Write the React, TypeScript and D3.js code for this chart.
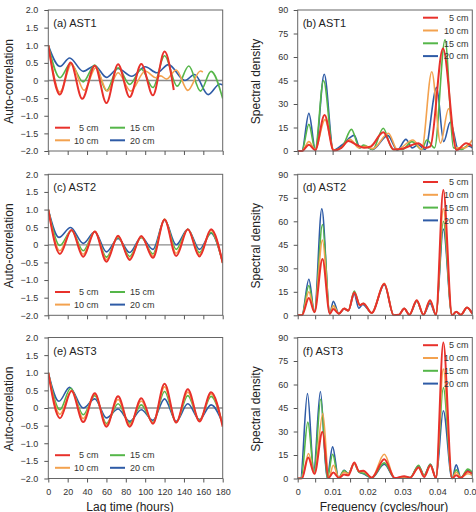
import { useEffect, useRef } from 'react';
import * as d3 from 'd3';

type Pt = [number, number];

const WIDTH = 476;
const HEIGHT = 512;
const FONT = '"Liberation Sans", Arial, Helvetica, sans-serif';

const depthLabels = ['5 cm', '10 cm', '15 cm', '20 cm'];
const depthColors = ['#e8312b', '#f3a24f', '#55b649', '#2e5ba6'];

// tick values
const lagTicks = [0, 20, 40, 60, 80, 100, 120, 140, 160, 180];
const acfTicks = [-2, -1.5, -1, -0.5, 0, 0.5, 1, 1.5, 2];
const freqTicks = [0, 0.005, 0.01, 0.015, 0.02, 0.025, 0.03, 0.035, 0.04, 0.045, 0.05];
const densityTicks = [0, 15, 30, 45, 60, 75, 90];

// auto-correlation, [lag hours, r] at turning points
const acfAst1Cm5: Pt[] = [[0, 1], [12, -0.4], [23, 0.51], [35, -0.52], [48, 0.42], [60, -0.64], [72, 0.46], [84, -0.47], [96, 0.47], [108, -0.42], [120, 0.82], [129.5, -0.27]];
const acfAst1Cm10: Pt[] = [[0, 1], [12, -0.33], [24, 0.47], [37, -0.28], [49, 0.36], [61, -0.3], [72, 0.22], [85, -0.3], [100, 0.27], [111, 0.08], [116, 0.13], [122, 0.04], [132, 0.3], [144, -0.28], [157, 0.27], [159.5, 0.24]];
const acfAst1Cm15: Pt[] = [[0, 1], [12, 0.08], [23, 0.48], [36, -0.04], [48, 0.44], [60, -0.29], [72, 0.36], [84, -0.11], [96, 0.32], [108, -0.2], [120, 0.7], [133, -0.16], [145, 0.41], [157, -0.3], [168, 0.26], [180, -0.51]];
const acfAst1Cm20: Pt[] = [[0, 1], [12, 0.4], [22, 0.64], [36, 0.26], [48, 0.42], [60, 0.09], [72, 0.34], [86, 0.12], [100, 0.39], [112, 0.22], [124, 0.45], [141, 0.0], [151, 0.17], [165, -0.4], [177, -0.1], [180, -0.13]];

const acfAst2Cm5: Pt[] = [[0, 1], [12, -0.26], [24, 0.42], [36, -0.34], [48, 0.38], [60, -0.48], [72, 0.26], [84, -0.43], [96, 0.25], [108, -0.37], [120, 0.72], [132, -0.32], [144, 0.44], [156, -0.33], [168, 0.44], [180, -0.52]];
const acfAst2Cm10: Pt[] = [[0, 1], [12, -0.17], [24, 0.42], [36, -0.27], [48, 0.38], [60, -0.42], [72, 0.24], [84, -0.39], [96, 0.23], [108, -0.32], [120, 0.72], [132, -0.24], [144, 0.44], [156, -0.28], [168, 0.41], [180, -0.52]];
const acfAst2Cm15: Pt[] = [[0, 1], [12, -0.02], [24, 0.41], [36, -0.17], [48, 0.37], [60, -0.35], [72, 0.21], [84, -0.33], [96, 0.21], [108, -0.26], [120, 0.72], [132, -0.13], [144, 0.44], [156, -0.22], [168, 0.35], [180, -0.51]];
const acfAst2Cm20: Pt[] = [[0, 1], [11, 0.21], [23, 0.49], [36, 0.04], [48, 0.37], [60, -0.2], [72, 0.18], [84, -0.22], [96, 0.21], [108, -0.13], [120, 0.7], [132, 0.0], [144, 0.44], [156, -0.13], [168, 0.33], [180, -0.5]];

const acfAst3Cm5: Pt[] = [[0, 1], [12, -0.29], [24, 0.48], [36, -0.4], [48, 0.42], [60, -0.53], [72, 0.33], [84, -0.53], [96, 0.28], [108, -0.45], [120, 0.69], [132, -0.41], [144, 0.53], [156, -0.38], [168, 0.45], [180, -0.53]];
const acfAst3Cm10: Pt[] = [[0, 1], [12, -0.18], [24, 0.5], [36, -0.3], [48, 0.4], [60, -0.48], [72, 0.24], [84, -0.48], [96, 0.2], [108, -0.43], [120, 0.6], [132, -0.41], [144, 0.45], [156, -0.37], [168, 0.4], [180, -0.5]];
const acfAst3Cm15: Pt[] = [[0, 1], [12, -0.05], [23, 0.56], [36, -0.19], [48, 0.35], [60, -0.44], [72, 0.12], [84, -0.43], [96, 0.09], [108, -0.41], [120, 0.47], [132, -0.41], [144, 0.35], [156, -0.35], [168, 0.33], [180, -0.47]];
const acfAst3Cm20: Pt[] = [[0, 1], [11, 0.19], [22, 0.59], [36, 0.0], [48, 0.26], [60, -0.28], [72, -0.03], [84, -0.38], [96, -0.05], [108, -0.35], [120, 0.26], [132, -0.38], [144, 0.12], [156, -0.33], [168, 0.09], [180, -0.43]];

// spectral density, [cycles/hour, density] at peaks and troughs
const specAst1Cm5: Pt[] = [[0, 0], [0.0012, 0], [0.0032, 4], [0.005, 0.5], [0.0077, 23], [0.0103, 0.3], [0.0125, 2], [0.0145, 6.4], [0.0168, 4], [0.019, 2], [0.021, 3], [0.0245, 12], [0.0275, 1], [0.03, 1.5], [0.0346, 5], [0.0365, 2], [0.038, 3], [0.0416, 65.5], [0.0455, 0.5], [0.0482, 5], [0.05, 3]];
const specAst1Cm10: Pt[] = [[0, 0], [0.0012, 0], [0.0032, 6], [0.005, 1], [0.0078, 20], [0.0104, 0.5], [0.0125, 2], [0.015, 7.4], [0.0175, 2], [0.0195, 3], [0.0215, 1.5], [0.026, 11.3], [0.0285, 1], [0.033, 7], [0.0355, 1], [0.0384, 50.6], [0.0409, 5], [0.0432, 27], [0.0455, 2], [0.0478, 2], [0.05, 7]];
const specAst1Cm15: Pt[] = [[0, 0], [0.0012, 0], [0.0032, 17], [0.005, 1], [0.0074, 45], [0.0102, 0.5], [0.0128, 3], [0.0154, 13.8], [0.0177, 2], [0.0188, 3.8], [0.0215, 1], [0.0245, 14.5], [0.0272, 1], [0.03, 1], [0.0327, 6], [0.0355, 1], [0.037, 7], [0.0392, 2], [0.0422, 71], [0.0446, 2], [0.047, 1], [0.049, 4], [0.05, 3]];
const specAst1Cm20: Pt[] = [[0, 0], [0.0012, 0], [0.0032, 24], [0.0051, 0.5], [0.0076, 49], [0.0102, 0.5], [0.0128, 4], [0.0162, 10], [0.0178, 2], [0.0192, 3.2], [0.0215, 1], [0.0258, 10], [0.0285, 0.5], [0.031, 7.4], [0.0328, 2], [0.0345, 4], [0.0365, 1], [0.0398, 40.6], [0.0418, 6], [0.0437, 18.5], [0.046, 1], [0.049, 3], [0.05, 2]];

const specAst2Cm5: Pt[] = [[0, 0], [0.0012, 0], [0.0032, 11], [0.0048, 2], [0.0071, 36], [0.0092, 1], [0.0102, 4], [0.0118, 1], [0.0133, 4.3], [0.0145, 3], [0.0162, 14.5], [0.0178, 6.5], [0.0188, 7.5], [0.0212, 1.5], [0.0248, 20], [0.0275, 0], [0.029, 0.3], [0.0305, 4.3], [0.032, 0.3], [0.0341, 9.6], [0.036, 0.3], [0.0379, 9.6], [0.0396, 0.3], [0.0417, 80], [0.0442, 0], [0.0454, 2.3], [0.0467, 0.3], [0.0485, 4.9], [0.05, 1]];
const specAst2Cm10: Pt[] = [[0, 0], [0.0012, 0], [0.0032, 15], [0.0048, 2], [0.0071, 48], [0.0092, 1], [0.0102, 6], [0.0118, 1], [0.0133, 4.3], [0.0145, 3], [0.0162, 14.5], [0.0178, 6.5], [0.0188, 7.5], [0.0212, 1.5], [0.0248, 20.5], [0.0275, 0], [0.029, 0.3], [0.0305, 4.3], [0.032, 0.3], [0.0341, 9.6], [0.036, 0.3], [0.0379, 9.6], [0.0396, 0.3], [0.0417, 68], [0.0442, 0], [0.0454, 2.3], [0.0467, 0.3], [0.0485, 4.9], [0.05, 1]];
const specAst2Cm15: Pt[] = [[0, 0], [0.0012, 0], [0.0032, 19], [0.0048, 2], [0.0071, 58], [0.0092, 1], [0.0102, 6], [0.0118, 1], [0.0133, 4.3], [0.0145, 3], [0.0162, 15.5], [0.0178, 6.5], [0.0188, 7.5], [0.0212, 1.5], [0.0248, 20], [0.0275, 0], [0.029, 0.3], [0.0305, 4.3], [0.032, 0.3], [0.0341, 9.2], [0.036, 0.3], [0.0379, 9], [0.0396, 0.3], [0.0417, 60], [0.0442, 0], [0.0454, 2.3], [0.0467, 0.3], [0.0485, 4.9], [0.05, 1]];
const specAst2Cm20: Pt[] = [[0, 0], [0.0012, 0], [0.0032, 23], [0.0048, 2], [0.0069, 68], [0.0092, 1], [0.0102, 9], [0.0118, 1], [0.0133, 4], [0.0145, 3], [0.0162, 13.5], [0.0175, 4.5], [0.0186, 7], [0.0212, 1.5], [0.0248, 19.5], [0.0275, 0], [0.029, 0.3], [0.0305, 4.3], [0.032, 0.3], [0.0341, 9], [0.036, 0.3], [0.0379, 7.5], [0.0396, 0.3], [0.0417, 55], [0.0442, 0], [0.0454, 2.3], [0.0467, 0.3], [0.0485, 4.9], [0.05, 1]];

const specAst3Cm5: Pt[] = [[0, 0], [0.0012, 0], [0.003, 13.4], [0.0048, 3], [0.0071, 29.8], [0.0088, 0.3], [0.0102, 3.8], [0.0118, 0.3], [0.0133, 2.5], [0.0145, 2], [0.0162, 10.2], [0.0176, 4.5], [0.0188, 5], [0.0212, 0.5], [0.0248, 12.3], [0.0278, 0.3], [0.0305, 1.5], [0.0322, 0.5], [0.0346, 7], [0.0362, 1], [0.038, 8.5], [0.0396, 0.3], [0.0417, 86.8], [0.0442, 0], [0.0454, 2], [0.0467, 0.3], [0.0487, 4.5], [0.05, 3]];
const specAst3Cm10: Pt[] = [[0, 0], [0.0012, 0], [0.0031, 16], [0.0048, 3], [0.0072, 41.5], [0.0089, 0.3], [0.0102, 8.5], [0.0118, 0.5], [0.0133, 4], [0.0145, 3], [0.0162, 9.5], [0.0176, 4.5], [0.0188, 4.5], [0.0212, 0.5], [0.0248, 15.5], [0.0278, 0.3], [0.0305, 1], [0.0322, 0.5], [0.0346, 7], [0.0362, 1.5], [0.038, 8], [0.0396, 0.3], [0.0417, 69.8], [0.0442, 0], [0.0454, 4], [0.0467, 0.5], [0.0487, 3], [0.05, 2]];
const specAst3Cm15: Pt[] = [[0, 0], [0.001, 0], [0.0029, 36], [0.0047, 4], [0.0066, 50.6], [0.0085, 0.3], [0.01, 15.5], [0.0117, 0.3], [0.0133, 5], [0.0145, 3], [0.0162, 9.6], [0.0176, 4], [0.0188, 3.5], [0.0212, 0.5], [0.0248, 10], [0.0278, 0.3], [0.0305, 1], [0.0322, 0.5], [0.0346, 8.5], [0.0362, 2], [0.038, 9], [0.0396, 0.3], [0.0417, 58], [0.0442, 0], [0.0454, 5.5], [0.0467, 0.5], [0.0487, 6], [0.05, 4]];
const specAst3Cm20: Pt[] = [[0, 0], [0.0008, 0], [0.0028, 54.3], [0.0046, 5], [0.0065, 55.5], [0.0084, 0.3], [0.01, 20.2], [0.0117, 0.3], [0.0133, 5.3], [0.0145, 3], [0.0162, 9.6], [0.0176, 4], [0.0188, 3], [0.0212, 0.5], [0.0248, 9.1], [0.0278, 0.3], [0.0305, 1], [0.0322, 0.5], [0.0346, 8], [0.0362, 2], [0.038, 9], [0.0396, 0.3], [0.0417, 43.2], [0.0442, 0], [0.0454, 8.7], [0.0467, 0.5], [0.0487, 5], [0.05, 3]];

const acfPanels = [
  { title: '(a) AST1', series: [acfAst1Cm5, acfAst1Cm10, acfAst1Cm15, acfAst1Cm20] },
  { title: '(c) AST2', series: [acfAst2Cm5, acfAst2Cm10, acfAst2Cm15, acfAst2Cm20] },
  { title: '(e) AST3', series: [acfAst3Cm5, acfAst3Cm10, acfAst3Cm15, acfAst3Cm20] },
];
const specPanels = [
  { title: '(b) AST1', series: [specAst1Cm5, specAst1Cm10, specAst1Cm15, specAst1Cm20] },
  { title: '(d) AST2', series: [specAst2Cm5, specAst2Cm10, specAst2Cm15, specAst2Cm20] },
  { title: '(f) AST3', series: [specAst3Cm5, specAst3Cm10, specAst3Cm15, specAst3Cm20] },
];

// grid layout
const rowTops = [10, 174.3, 337.5];
const plotH = 141;
const leftRange: [number, number] = [48.3, 222.7];
const rightRange: [number, number] = [297.7, 472.3];

const fmtAcf = (v: number) => (v === 0 ? '0' : d3.format('.1f')(v));
const fmtFreq = (v: number) => {
  const k = Math.round(v * 1000);
  if (k % 10 !== 0) return '';
  return k === 0 ? '0' : d3.format('.2f')(v);
};

const styleAxis = (g: any) => {
  g.select('.domain').remove();
  g.selectAll('.tick line').attr('stroke', '#555').attr('stroke-width', 1);
  g.selectAll('.tick text')
    .attr('fill', '#333')
    .style('font-family', FONT)
    .style('font-size', '9px');
};

const App = () => {
  const svgRef = useRef<SVGSVGElement>(null);

  useEffect(() => {
    const svg = d3.select(svgRef.current);
    svg.selectAll('*').remove();

    const xLag = d3.scaleLinear().domain([0, 180]).range(leftRange);
    const xFreq = d3.scaleLinear().domain([0, 0.05]).range(rightRange);

    const drawPanel = (opts: any) => {
      const { x, y, top, title, series, kind, bottomRow, id } = opts;
      const [x0, x1] = x.range();
      const bottom = top + plotH;
      const g = svg.append('g');

      g.append('clipPath')
        .attr('id', id)
        .append('rect')
        .attr('x', x0)
        .attr('y', top - 1)
        .attr('width', x1 - x0)
        .attr('height', plotH + 2);

      if (kind === 'acf') {
        g.append('line')
          .attr('x1', x0)
          .attr('x2', x1)
          .attr('y1', y(0))
          .attr('y2', y(0))
          .attr('stroke', '#8c8c8c')
          .attr('stroke-width', 1.3);
      }

      const line = d3
        .line<Pt>()
        .x(d => x(d[0]))
        .y(d => y(d[1]))
        .curve(d3.curveMonotoneX);

      const lines = g.append('g').attr('clip-path', `url(#${id})`);
      // deepest first so the 5 cm curve sits on top
      [3, 2, 1, 0].forEach(i => {
        lines
          .append('path')
          .attr('d', line(series[i]))
          .attr('fill', 'none')
          .attr('stroke', depthColors[i])
          .attr('stroke-width', i === 0 ? 2 : 1.6)
          .attr('stroke-linejoin', 'round');
      });

      g.append('rect')
        .attr('x', x0)
        .attr('y', top)
        .attr('width', x1 - x0)
        .attr('height', plotH)
        .attr('fill', 'none')
        .attr('stroke', '#666')
        .attr('stroke-width', 1);

      const yAxis = d3
        .axisLeft(y)
        .tickValues(kind === 'acf' ? acfTicks : densityTicks)
        .tickSize(4)
        .tickPadding(kind === 'acf' ? 6 : 5.5)
        .tickFormat(kind === 'acf' ? (fmtAcf as any) : (d3.format('d') as any));
      g.append('g').attr('transform', `translate(${x0},0)`).call(yAxis).call(styleAxis);

      const xAxis = d3
        .axisBottom(x)
        .tickValues(kind === 'acf' ? lagTicks : freqTicks)
        .tickSize(4)
        .tickPadding(6)
        .tickFormat(
          bottomRow ? (kind === 'acf' ? (d3.format('d') as any) : (fmtFreq as any)) : () => ''
        );
      g.append('g').attr('transform', `translate(0,${bottom})`).call(xAxis).call(styleAxis);

      g.append('text')
        .attr('x', x0 + 5)
        .attr('y', top + 17)
        .attr('fill', '#222')
        .style('font-family', FONT)
        .style('font-size', '11px')
        .text(title);

      const yTitleX = kind === 'acf' ? 12.5 : 259.5;
      g.append('text')
        .attr('transform', `translate(${yTitleX},${top + plotH / 2 + 1}) rotate(-90)`)
        .attr('text-anchor', 'middle')
        .attr('fill', '#222')
        .style('font-family', FONT)
        .style('font-size', '12px')
        .text(kind === 'acf' ? 'Auto-correlation' : 'Spectral density');

      if (bottomRow) {
        g.append('text')
          .attr('x', kind === 'acf' ? 130 : 384)
          .attr('y', 510.5)
          .attr('text-anchor', 'middle')
          .attr('fill', '#222')
          .style('font-family', FONT)
          .style('font-size', '12px')
          .text(kind === 'acf' ? 'Lag time (hours)' : 'Frequency (cycles/hour)');
      }

      // legend
      const legend = g.append('g');
      depthLabels.forEach((label, i) => {
        let lx: number;
        let ly: number;
        let tx: number;
        if (kind === 'acf') {
          const col = i === 0 || i === 1 ? 0 : 1;
          const row = i === 0 || i === 2 ? 0 : 1;
          lx = x0 + 6.7 + col * 55;
          ly = top + 117.7 + row * 12.6;
          tx = x0 + 50.2 + col * 56;
        } else {
          lx = x0 + 125.3;
          ly = top + 7.7 + i * 12.8;
          tx = x0 + 170.8;
        }
        legend
          .append('line')
          .attr('x1', lx)
          .attr('x2', lx + 15)
          .attr('y1', ly)
          .attr('y2', ly)
          .attr('stroke', depthColors[i])
          .attr('stroke-width', 2);
        legend
          .append('text')
          .attr('x', tx)
          .attr('y', ly + 3.2)
          .attr('text-anchor', 'end')
          .attr('fill', '#333')
          .style('font-family', FONT)
          .style('font-size', '9px')
          .text(label);
      });
    };

    rowTops.forEach((top, r) => {
      const yAcf = d3.scaleLinear().domain([-2, 2]).range([top + plotH, top]);
      const yDen = d3.scaleLinear().domain([0, 90]).range([top + plotH, top]);
      drawPanel({
        x: xLag,
        y: yAcf,
        top,
        title: acfPanels[r].title,
        series: acfPanels[r].series,
        kind: 'acf',
        bottomRow: r === rowTops.length - 1,
        id: `clip-acf-${r}`,
      });
      drawPanel({
        x: xFreq,
        y: yDen,
        top,
        title: specPanels[r].title,
        series: specPanels[r].series,
        kind: 'spec',
        bottomRow: r === rowTops.length - 1,
        id: `clip-spec-${r}`,
      });
    });
  }, []);

  return (
    <svg
      ref={svgRef}
      width={WIDTH}
      height={HEIGHT}
      viewBox={`0 0 ${WIDTH} ${HEIGHT}`}
      style={{ position: 'absolute', left: 0, top: 0, background: '#fff', overflow: 'hidden' }}
    />
  );
};

export default App;
